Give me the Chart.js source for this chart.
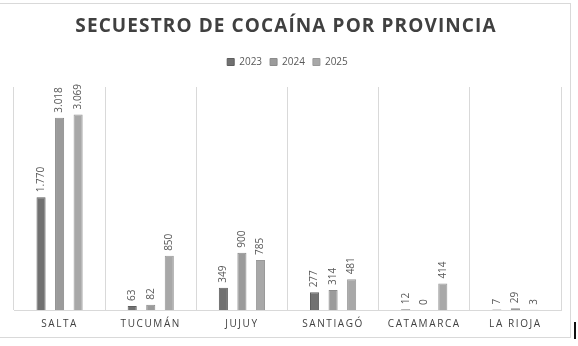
<!DOCTYPE html>
<html>
<head>
<meta charset="utf-8">
<script src="https://cdn.jsdelivr.net/npm/chart.js@4/dist/chart.umd.min.js"></script>
<style>
  html, body { margin: 0; padding: 0; background: #fff; }
  #wrap { position: relative; width: 578px; height: 346px; overflow: hidden; }
  #frame {
    position: absolute; left: -1px; top: 3px; width: 572px; height: 335px;
    border: 1px solid #d9d9d9; box-sizing: border-box;
  }
  #titulo {
    position: absolute; left: 0; top: 12px; width: 572px; text-align: center;
    font: bold 19px "Open Sans", sans-serif; letter-spacing: 1.1px; color: #404040;
  }
  #marca { position: absolute; left: 574px; top: 322px; width: 2px; height: 17px; background: #111; }
  canvas { position: absolute; left: 0; top: 0; }
</style>
</head>
<body>
<div id="wrap">
  <div id="frame"></div>
  <canvas id="grafico" width="578" height="346"></canvas>
  <div id="titulo">SECUESTRO DE COCAÍNA POR PROVINCIA</div>
  <div id="marca"></div>
</div>
<script>
// provincias y kilos secuestrados por año
const PROVINCIAS = ["SALTA", "TUCUMÁN", "JUJUY", "SANTIAGÓ", "CATAMARCA", "LA RIOJA"];
const ANIOS = ["2023", "2024", "2025"];
const KG_2023 = [1770, 63, 349, 277, 12, 7];
const KG_2024 = [3018, 82, 900, 314, 0, 29];
const KG_2025 = [3069, 850, 785, 481, 414, 3];

const RELLENO = ["#717171", "#9b9b9b", "#a8a8a8"];
const BORDE = ["#5e5e5e", "#8b8b8b", "#999999"];

function miles(v){
  return String(v).replace(/\B(?=(\d{3})+(?!\d))/g, ".");
}

/* =====================
   etiquetas de valor (verticales)
===================== */
const etiquetas = {
  id: "etiquetas",
  afterDatasetsDraw(chart){
    const ctx = chart.ctx;
    ctx.save();
    ctx.font = '10px "Open Sans", sans-serif';
    ctx.fillStyle = "#595959";
    ctx.textAlign = "left";
    ctx.textBaseline = "middle";
    chart.data.datasets.forEach((ds, i)=>{
      chart.getDatasetMeta(i).data.forEach((bar, j)=>{
        ctx.save();
        ctx.translate(bar.x, bar.y - 5);
        ctx.rotate(-Math.PI/2);
        ctx.fillText(miles(ds.data[j]), 0, 0);
        ctx.restore();
      });
    });
    ctx.restore();
    // las etiquetas del eje x se dibujan después, espaciadas
    ctx.letterSpacing = "1.6px";
  },
  afterDraw(chart){
    chart.ctx.letterSpacing = "0px";
  },
  beforeLayout(chart){
    const lg = chart.legend;
    if (lg && !lg._alto){
      const fit = lg.fit;
      lg.fit = function(){ fit.call(this); this.height = 38; };
      lg._alto = true;
    }
  }
};

new Chart(document.getElementById("grafico"), {
  type: "bar",
  data: {
    labels: PROVINCIAS,
    datasets: [KG_2023, KG_2024, KG_2025].map((d, i)=>({
      label: ANIOS[i],
      data: d,
      backgroundColor: RELLENO[i],
      borderColor: BORDE[i],
      borderWidth: 1,
      categoryPercentage: 0.61,
      barPercentage: 0.49
    }))
  },
  options: {
    responsive: false,
    animation: false,
    layout: { padding: { top: 49, left: 14, right: 17, bottom: 8 } },
    plugins: {
      title: { display: false },
      tooltip: { enabled: false },
      legend: {
        position: "top",
        labels: {
          boxWidth: 7, boxHeight: 7, padding: 8,
          color: "#595959",
          font: { family: "'Open Sans', sans-serif", size: 10 }
        }
      }
    },
    scales: {
      x: {
        grid: { offset: true, color: "#d9d9d9", drawTicks: false },
        border: { color: "#d9d9d9" },
        ticks: {
          z: 1, padding: 8, color: "#404040",
          font: { family: "'Open Sans', sans-serif", size: 10 }
        }
      },
      y: { display: false, min: 0, max: 3500 }
    }
  },
  plugins: [etiquetas]
});
</script>
</body>
</html>
